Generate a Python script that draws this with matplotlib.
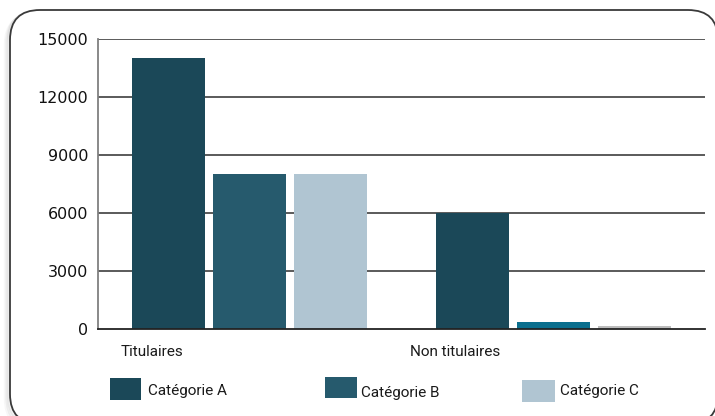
import matplotlib
matplotlib.use("Agg")
import matplotlib.pyplot as plt
from matplotlib.patches import FancyBboxPatch, Rectangle
import numpy as np

# Data
groups = ["Titulaires", "Non titulaires"]
series = ["Catégorie A", "Catégorie B", "Catégorie C"]
cat_a = [14000, 6000]
cat_b = [8000, 380]
cat_c = [8000, 150]
yticks = [0, 3000, 6000, 9000, 12000, 15000]

# Per-bar colours (series x group)
bar_colors = [
    ["#1b4858", "#1b4858"],
    ["#265a6d", "#0b6f8e"],
    ["#b0c5d2", "#bdbdbd"],
]
legend_colors = ["#1b4858", "#265a6d", "#b0c5d2"]

label_font = ["Roboto", "DejaVu Sans"]

W, H = 715, 416
fig = plt.figure(figsize=(W / 100, H / 100), dpi=100)
fig.patch.set_facecolor("white")

# Rounded frame with a faint shadow
for i, a in enumerate([0.05, 0.04, 0.03]):
    sh = FancyBboxPatch((10 - (i + 1) * 1.5, -8 - (i + 1) * 1.5), 708, 414,
                        boxstyle="round,pad=0,rounding_size=30",
                        transform=None, facecolor="none",
                        edgecolor=(0, 0, 0, a), linewidth=2.5, zorder=0)
    fig.patches.append(sh)
frame = FancyBboxPatch((10, -8), 708, 414,
                       boxstyle="round,pad=0,rounding_size=30",
                       transform=None, facecolor="white",
                       edgecolor="#3a3a3a", linewidth=1.3, zorder=0.5)
fig.patches.append(frame)

ax = fig.add_axes([98 / W, 87 / H, (705 - 98) / W, (377 - 87) / H])
ax.set_facecolor("none")
ax.set_zorder(2)

x = np.arange(len(groups))
width = 0.24
step = 0.267
values = [cat_a, cat_b, cat_c]
for s, vals in enumerate(values):
    ax.bar(x + (s - 1) * step, vals, width=width, color=bar_colors[s],
           zorder=3, linewidth=0)

ax.set_xlim(-0.5, 1.5)
ax.set_ylim(0, 15000)
ax.set_yticks(yticks)
ax.set_yticklabels([str(t) for t in yticks], fontsize=11.5,
                   family="DejaVu Sans", color="#111111")
ax.tick_params(axis="y", length=0, pad=7)
ax.set_xticks([])
for t in yticks[1:]:
    ax.axhline(t, color="#2e2e2e", linewidth=1.1, zorder=1)

for side in ["top", "right"]:
    ax.spines[side].set_visible(False)
ax.spines["left"].set_color("#808080")
ax.spines["left"].set_linewidth(1.3)
ax.spines["bottom"].set_color("#222222")
ax.spines["bottom"].set_linewidth(1.3)
ax.spines["bottom"].set_zorder(4)

# Group labels beneath the axis
for i, g in enumerate(groups):
    ax.text(i - 0.322, -0.08, g, transform=ax.get_xaxis_transform(),
            ha="center", va="center", fontsize=11, family=label_font,
            color="#1a1a1a")

# Legend drawn along the bottom of the frame
legend_items = [
    (110, 378, 31, 22, 148, 391),
    (325, 377, 32, 21, 361, 393),
    (522, 380, 33, 22, 560, 391),
]
for (px, py, pw, ph, tx, ty), name, col in zip(legend_items, series, legend_colors):
    fig.patches.append(Rectangle((px, H - py - ph), pw, ph, transform=None,
                                 facecolor=col, edgecolor="none", zorder=3))
    fig.text(tx / W, 1 - ty / H, name, ha="left", va="center",
             fontsize=11, family=label_font, color="#1a1a1a")

fig.savefig("out.png", dpi=100, facecolor="white")
